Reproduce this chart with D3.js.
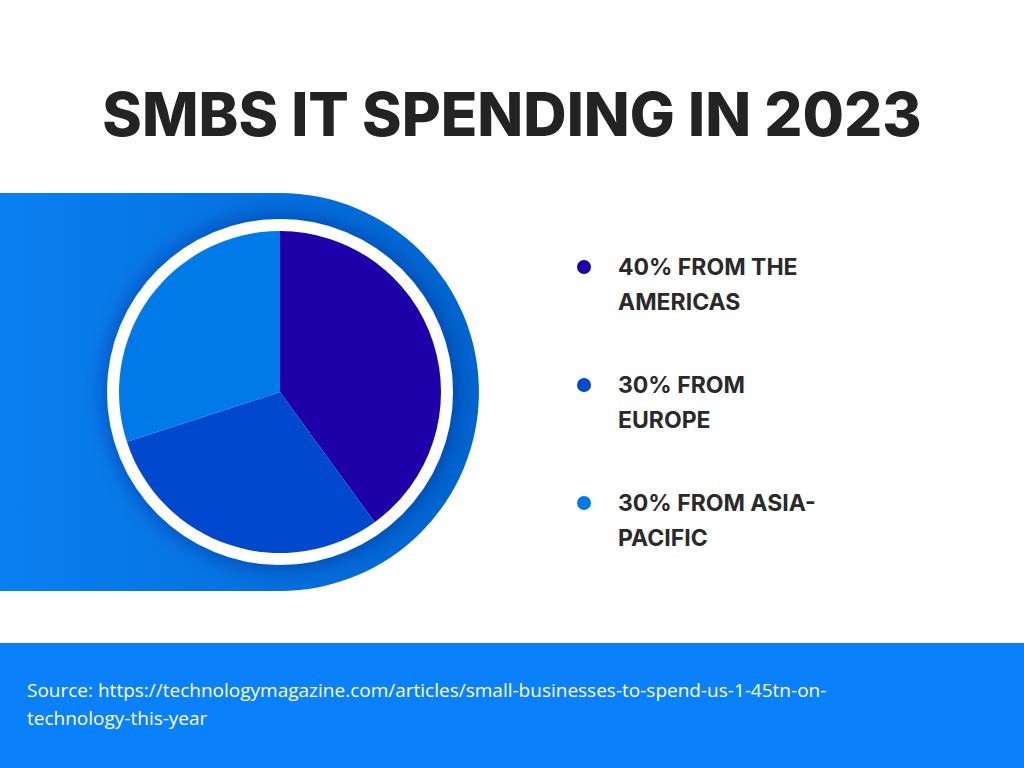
<!DOCTYPE html>
<html><head><meta charset="utf-8">
<script src="https://cdn.jsdelivr.net/npm/d3@7"></script>
<style>body{margin:0;background:#fff}svg{display:block}</style>
</head><body>
<script>
// chart data
var regions = ["40% FROM THE|AMERICAS", "30% FROM|EUROPE", "30% FROM ASIA-|PACIFIC"];
var shares = [40, 30, 30];
var colors = ["#1d00a8", "#0049cf", "#0079e9"];
var sourceLines = ["Source: https://technologymagazine.com/articles/small-businesses-to-spend-us-1-45tn-on-",
                   "technology-this-year"];

var W = 1024, H = 768, cx = 280, cy = 392;
var svg = d3.select("body").append("svg").attr("width", W).attr("height", H);
var defs = svg.append("defs");

var g1 = defs.append("linearGradient").attr("id", "bg").attr("x1", 0).attr("x2", 1);
g1.append("stop").attr("offset", 0).attr("stop-color", "#0a80f2");
g1.append("stop").attr("offset", 1).attr("stop-color", "#0064cf");
var f = defs.append("filter").attr("id", "sh").attr("x", -0.3).attr("y", -0.3).attr("width", 1.6).attr("height", 1.6);
f.append("feDropShadow").attr("dx", 0).attr("dy", 0).attr("stdDeviation", 12).attr("flood-color", "#001a60").attr("flood-opacity", 0.45);

svg.append("text").attr("x", W / 2).attr("y", 136).attr("text-anchor", "middle")
  .attr("font-family", "Inter, Roboto, sans-serif").attr("font-weight", 800).attr("font-size", 60)
  .attr("fill", "#232323").text("SMBS IT SPENDING IN 2023");

// rounded band behind pie
var R = 199;
svg.append("path").attr("fill", "url(#bg)")
  .attr("d", "M0," + (cy - R) + "H" + cx + "A" + R + "," + R + " 0 0 1 " + cx + "," + (cy + R) + "H0Z");

svg.append("circle").attr("cx", cx).attr("cy", cy).attr("r", 173).attr("fill", "#fff").attr("filter", "url(#sh)");

var pie = d3.pie().sort(null).value(function (d) { return d; });
var arc = d3.arc().innerRadius(0).outerRadius(161);
svg.append("g").attr("transform", "translate(" + cx + "," + cy + ")")
  .selectAll("path").data(pie(shares)).join("path")
  .attr("d", arc).attr("fill", function (d, i) { return colors[i]; });

var y = d3.scalePoint().domain(d3.range(regions.length)).range([267, 503]);
var lg = svg.append("g").selectAll("g").data(regions).join("g")
  .attr("transform", function (d, i) { return "translate(0," + y(i) + ")"; });
lg.append("circle").attr("cx", 584).attr("cy", 0).attr("r", 7).attr("fill", function (d, i) { return colors[i]; });
lg.append("text").attr("font-family", "Inter, Roboto, sans-serif").attr("font-weight", 700)
  .attr("font-size", 23).attr("fill", "#2a2a2a")
  .selectAll("tspan").data(function (d) { return d.split("|"); }).join("tspan")
  .attr("x", 618).attr("y", function (d, i) { return 8 + i * 35; }).text(function (d) { return d; });

svg.append("rect").attr("x", 0).attr("y", 643).attr("width", W).attr("height", 125).attr("fill", "#0b80fb");
svg.append("text").attr("font-family", "'Open Sans', sans-serif").attr("font-size", 19).attr("fill", "#fff")
  .selectAll("tspan").data(sourceLines).join("tspan")
  .attr("x", 27).attr("y", function (d, i) { return 697 + i * 28; }).text(function (d) { return d; });
</script>
</body></html>
